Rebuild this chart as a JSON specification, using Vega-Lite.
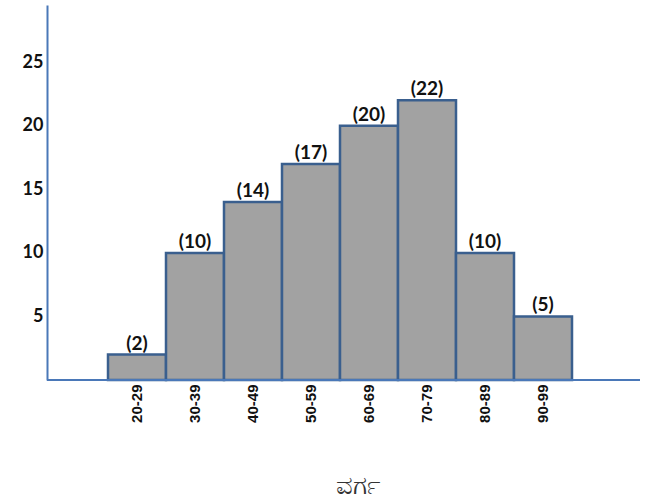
{
  "$schema": "https://vega.github.io/schema/vega-lite/v6.json",
  "autosize": "none",
  "width": 593,
  "height": 375,
  "padding": {"left": 47, "top": 5, "right": 6, "bottom": 122},
  "background": "white",
  "config": {"view": {"stroke": null}},
  "data": {
    "values": [
      {"class": "20-29", "count": 2},
      {"class": "30-39", "count": 10},
      {"class": "40-49", "count": 14},
      {"class": "50-59", "count": 17},
      {"class": "60-69", "count": 20},
      {"class": "70-79", "count": 22},
      {"class": "80-89", "count": 10},
      {"class": "90-99", "count": 5}
    ]
  },
  "transform": [
    {"calculate": "'(' + datum.count + ')'", "as": "label"}
  ],
  "encoding": {
    "y": {
      "field": "count",
      "type": "quantitative",
      "scale": {"domain": [0, 29.5]},
      "axis": {
        "title": null,
        "values": [5, 10, 15, 20, 25],
        "grid": false,
        "ticks": false,
        "labelFont": "Lato",
        "labelFontSize": 18,
        "labelFontWeight": "bold",
        "labelColor": "#111111",
        "labelPadding": 4,
        "domainColor": "#4a78b8",
        "domainWidth": 2
      }
    }
  },
  "layer": [
    {
      "mark": {"type": "bar", "fill": "#a2a2a2", "stroke": "#3a5f8e", "strokeWidth": 2.5},
      "encoding": {
        "x": {
          "field": "class",
          "type": "ordinal",
          "sort": null,
          "scale": {"paddingInner": 0, "paddingOuter": 0, "range": [61, 525]},
          "axis": {
            "orient": "bottom",
            "title": "ವರ್ಗ",
            "titleFontSize": 26,
            "titleFontWeight": "normal",
            "titleColor": "#333333",
            "titlePadding": 50,
            "titleX": 310,
            "labelAngle": -90,
            "labelFont": "Liberation Sans",
            "labelFontSize": 15,
            "labelFontWeight": "bold",
            "labelColor": "#111111",
            "labelPadding": 4,
            "ticks": false,
            "domain": false
          }
        }
      }
    },
    {
      "mark": {"type": "text", "baseline": "bottom", "dy": -1, "font": "Lato", "fontSize": 19, "fontWeight": "bold", "color": "#111111"},
      "encoding": {
        "x": {"field": "class", "type": "ordinal", "sort": null},
        "text": {"field": "label", "type": "nominal"}
      }
    },
    {
      "mark": {"type": "rule", "color": "#4a78b8", "strokeWidth": 2},
      "encoding": {
        "y": {"datum": 0}
      }
    }
  ]
}
